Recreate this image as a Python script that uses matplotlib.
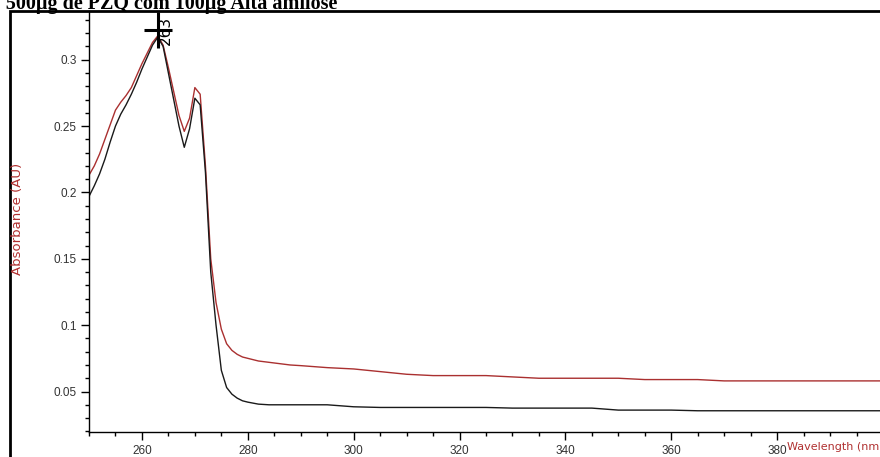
import numpy as np
import matplotlib
matplotlib.use("Agg")
import matplotlib.pyplot as plt
from matplotlib.patches import Rectangle

# wavelength (nm) and absorbance (AU)
wavelength = [250, 251, 252, 253, 254, 255, 256, 257, 258, 259, 260, 261, 262, 263,
              264, 265, 266, 267, 268, 269, 270, 271, 272, 273, 274, 275, 276, 277,
              278, 279, 280, 282, 284, 286, 288, 290, 295, 300, 305, 310, 315, 320,
              325, 330, 335, 340, 345, 350, 355, 360, 365, 370, 375, 380, 385, 390,
              395, 400]
abs_red = [0.213, 0.220, 0.229, 0.240, 0.251, 0.262, 0.268, 0.273, 0.279, 0.288,
           0.297, 0.305, 0.313, 0.318, 0.311, 0.294, 0.276, 0.258, 0.246, 0.256,
           0.279, 0.274, 0.220, 0.150, 0.117, 0.097, 0.086, 0.081, 0.078, 0.076,
           0.075, 0.073, 0.072, 0.071, 0.070, 0.0695, 0.068, 0.067, 0.065, 0.063,
           0.062, 0.062, 0.062, 0.061, 0.060, 0.060, 0.060, 0.060, 0.059, 0.059,
           0.059, 0.058, 0.058, 0.058, 0.058, 0.058, 0.058, 0.058]
abs_black = [0.197, 0.205, 0.214, 0.225, 0.238, 0.250, 0.259, 0.266, 0.274, 0.283,
             0.293, 0.302, 0.311, 0.317, 0.310, 0.290, 0.270, 0.250, 0.234, 0.248,
             0.271, 0.266, 0.215, 0.140, 0.100, 0.066, 0.053, 0.048, 0.045, 0.043,
             0.042, 0.0405, 0.040, 0.040, 0.040, 0.040, 0.040, 0.0385, 0.038, 0.038,
             0.038, 0.038, 0.038, 0.0375, 0.0375, 0.0375, 0.0375, 0.036, 0.036, 0.036,
             0.0355, 0.0355, 0.0355, 0.0355, 0.0355, 0.0355, 0.0355, 0.0355]

peak_wl = 263
peak_abs = 0.3226

x_ticks = [260, 280, 300, 320, 340, 360, 380, 400]
x_tick_labels = ["260", "280", "300", "320", "340", "360", "380", ""]
y_ticks = [0.05, 0.1, 0.15, 0.2, 0.25, 0.3]
y_tick_labels = ["0.05", "0.1", "0.15", "0.2", "0.25", "0.3"]

title = "- 500\u00b5g de PZQ com 100\u00b5g Alta amilose"

W, H = 880, 457
fig = plt.figure(figsize=(W / 100, H / 100), dpi=100)
ax = fig.add_axes([89 / W, (H - 432) / H, (883 - 89) / W, (432 - 11) / H])

ax.plot(wavelength, abs_red, color="#aa3030", lw=1.0)
ax.plot(wavelength, abs_black, color="#1a1a1a", lw=1.0)

# peak marker: cross plus rotated label
ax.plot([peak_wl], [peak_abs], marker="_", ms=20, mew=2.2, color="black", clip_on=False)
ax.plot([peak_wl], [peak_abs], marker="|", ms=26, mew=2.2, color="black", clip_on=False)
ax.text(peak_wl + 1.5, peak_abs - 0.0005, "263", rotation=90, ha="center", va="center",
        fontsize=11, family="DejaVu Sans", color="black")

ax.set_xlim(250, 400)
ax.set_ylim(0.0195, 0.3367)
ax.set_xticks(x_ticks)
ax.set_xticklabels(x_tick_labels)
ax.set_xticks(np.arange(250, 401, 5), minor=True)
ax.set_yticks(y_ticks)
ax.set_yticklabels(y_tick_labels)
ax.set_yticks(np.arange(0.02, 0.34, 0.01), minor=True)
ax.tick_params(which="major", length=6, width=1, direction="out",
               labelsize=8.5, labelcolor="#333333", pad=3)
ax.tick_params(which="minor", length=3, width=1, direction="out")
for lab in ax.get_xticklabels() + ax.get_yticklabels():
    lab.set_family("Liberation Sans")

for side in ["top", "right"]:
    ax.spines[side].set_visible(False)
for side in ["left", "bottom"]:
    ax.spines[side].set_linewidth(1.0)

# axis labels, in red like the instrument software
fig.text(18 / W, 1 - 219 / H, "Absorbance (AU)", rotation=90, ha="center", va="center",
         fontsize=9.5, color="#b03030", family="DejaVu Sans")
fig.text(787 / W, 1 - 447 / H, "Wavelength (nm)", ha="left", va="center",
         fontsize=8, color="#b03030", family="DejaVu Sans")

# outer frame of the screenshot
fig.add_artist(Rectangle((9.5 / W, -0.05), 1.0, 1 - 11 / H + 0.05, transform=fig.transFigure,
                         fill=False, lw=2, edgecolor="black"))

fig.text(-6 / W, 1 - 9 / H, title, ha="left", va="baseline", fontsize=14.5,
         fontweight="bold", family="Liberation Serif", color="black")

fig.savefig("out.png", dpi=100)
